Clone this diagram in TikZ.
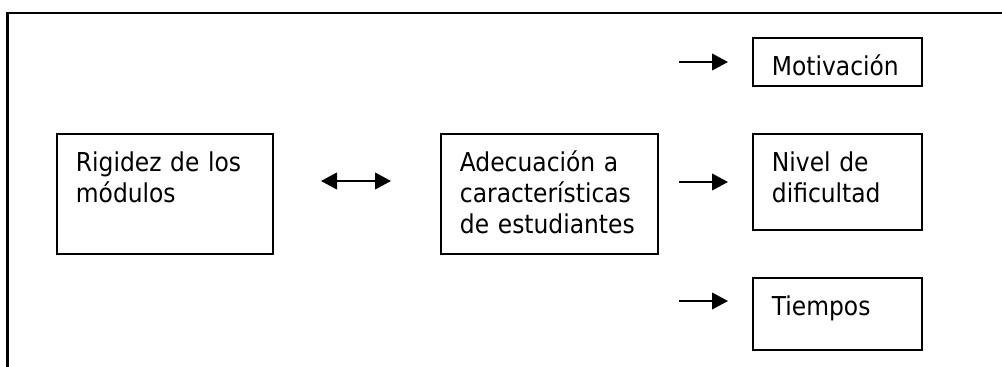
\documentclass[tikz,border=0pt]{standalone}
\usepackage{fontspec}
\usepackage{tikz}
\usetikzlibrary{arrows.meta}
\newfontfamily\cajafont{DejaVu Sans Condensed}

\tikzset{
    caja/.style={draw, line width=1.4pt, anchor=north west, align=left,
        inner xsep=14.25pt, inner ysep=0pt, text height=28.1pt,
        font=\cajafont\fontsize{19.5pt}{23.25pt}\selectfont},
    punta/.tip={Triangle[length=12pt, width=12.5pt]},
    flecha/.style={line width=1.4pt, -punta},
    dobleflecha/.style={line width=1.4pt, punta-punta}
}

\begin{document}
\begin{tikzpicture}[x=0.75pt, y=-0.75pt]
        \useasboundingbox (0, 0) rectangle (1002, 367);
        \draw[line width=2pt] (7.5, 372) -- (7.5, 13) -- (1006, 13);

        \node[caja, text width=133.5pt, text depth=61.9pt] (rigidez) at (56, 133) {Rigidez de los\\módulos};
        \node[caja, text width=134.25pt, text depth=61.9pt] (adecuacion) at (440, 133) {Adecuación a\\características\\de estudiantes};
        \node[caja, text width=98.25pt, text depth=7.9pt] (motivacion) at (752, 37) {Motivación};
        \node[caja, text width=98.25pt, text depth=43.9pt] (nivel) at (752, 133) {Nivel de\\dificultad};
        \node[caja, text width=98.25pt, text depth=25.9pt] (tiempos) at (752, 277) {Tiempos};

        \coordinate (di) at (321, 181);
        \coordinate (dd) at (391, 181);
        \draw[dobleflecha] (di) -- (dd);

        \foreach \n/\y in {m/62, n/182, t/301} {
            \coordinate (a\n) at (679, \y);
            \coordinate (b\n) at (728, \y);
            \draw[flecha] (a\n) -- (b\n);
        }
    \end{tikzpicture}
\end{document}
